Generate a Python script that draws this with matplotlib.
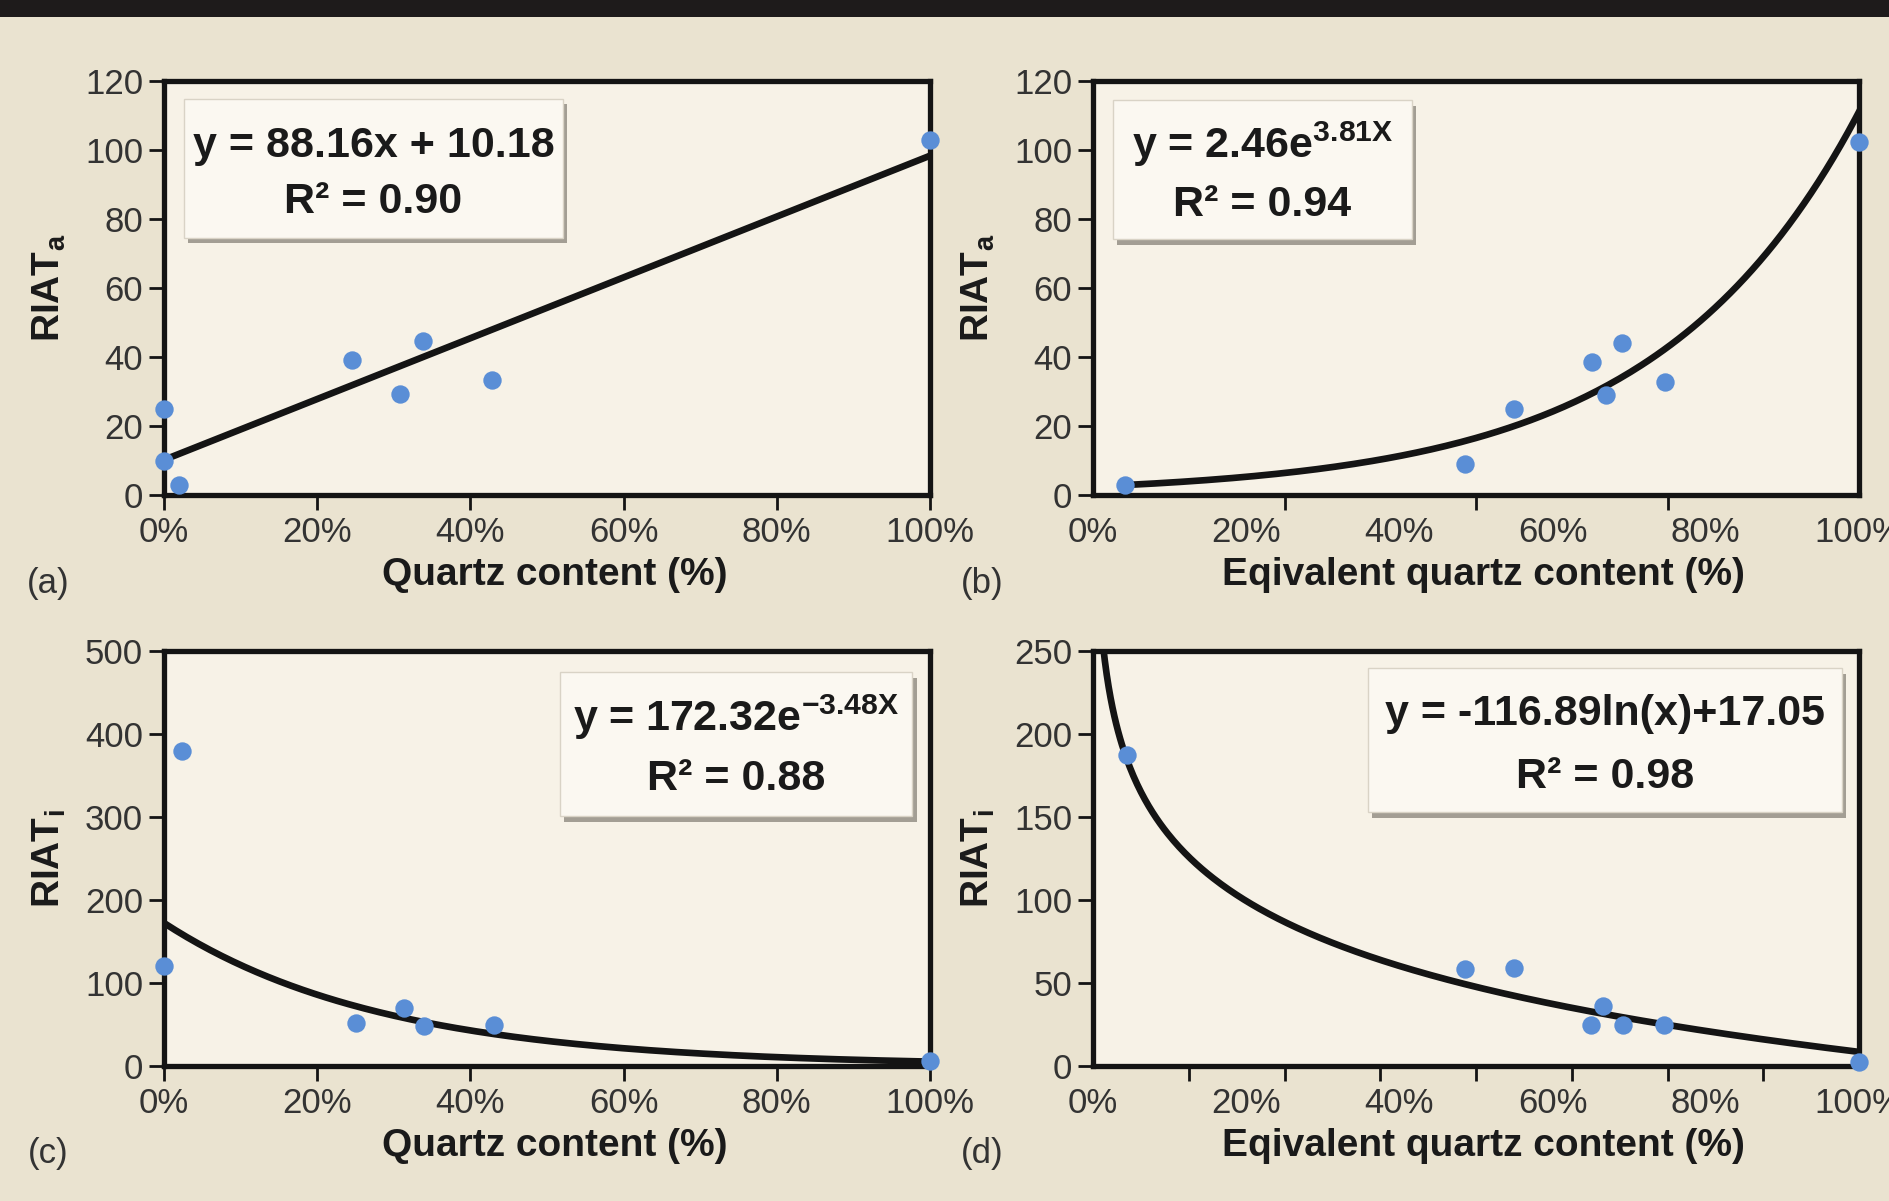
import numpy as np
import matplotlib
matplotlib.use("Agg")
import matplotlib.pyplot as plt
from matplotlib.patches import Rectangle
import matplotlib.patheffects as pe
from matplotlib import font_manager

# ---------------- data ----------------
quartz_a_x = [0.0, 0.0, 0.019, 0.246, 0.308, 0.338, 0.428, 1.0]
quartz_a_y = [24.8, 9.9, 2.8, 39.1, 29.2, 44.7, 33.2, 102.8]

eqquartz_a_x = [0.042, 0.486, 0.549, 0.651, 0.670, 0.690, 0.747, 1.0]
eqquartz_a_y = [2.8, 9.1, 24.8, 38.6, 28.9, 44.2, 32.8, 102.4]

quartz_i_x = [0.0, 0.023, 0.250, 0.313, 0.340, 0.431, 1.0]
quartz_i_y = [120.8, 379.6, 51.3, 69.9, 47.8, 50.0, 6.6]

eqquartz_i_x = [0.044, 0.486, 0.549, 0.650, 0.666, 0.692, 0.746, 1.0]
eqquartz_i_y = [187.6, 58.2, 58.8, 25.0, 36.0, 25.0, 25.0, 2.2]

# trend-line coefficients (as printed / as drawn)
lin_a = (88.16, 10.18)          # y = m x + c
exp_b = (2.46, 3.81)            # y = A e^(k x)
exp_c = (172.32, -3.48)         # y = A e^(k x)
log_d = (-56.5, 8.5)            # drawn curve y = a ln(x) + b

x_tick_labels = ["0%", "20%", "40%", "60%", "80%", "100%"]
y_ticks_a = [0, 20, 40, 60, 80, 100, 120]
y_ticks_c = [0, 100, 200, 300, 400, 500]
y_ticks_d = [0, 50, 100, 150, 200, 250]

eq_texts = {
    "a": ("y = 88.16x + 10.18", "R\u00b2 = 0.90"),
    "b": (r"y = 2.46e$^{\mathregular{3.81X}}$", "R\u00b2 = 0.94"),
    "c": (r"y = 172.32e$^{\mathregular{-3.48X}}$", "R\u00b2 = 0.88"),
    "d": ("y = -116.89ln(x)+17.05", "R\u00b2 = 0.98"),
}
x_labels = {"a": "Quartz content (%)", "b": "Eqivalent quartz content (%)",
            "c": "Quartz content (%)", "d": "Eqivalent quartz content (%)"}
y_labels = {"a": r"RIAT$_\mathregular{a}$", "b": r"RIAT$_\mathregular{a}$",
            "c": r"RIAT$_\mathregular{i}$", "d": r"RIAT$_\mathregular{i}$"}

# ---------------- style ----------------
names = {f.name for f in font_manager.fontManager.ttflist}
BASE = "Liberation Sans" if "Liberation Sans" in names else "DejaVu Sans"
NARROW = "Liberation Sans Narrow" if "Liberation Sans Narrow" in names else BASE
EQ_SIZE = 35 if NARROW != BASE else 31

plt.rcParams["font.family"] = [BASE, "DejaVu Sans"]
plt.rcParams["mathtext.default"] = "regular"

FIG_BG = "#EAE3D0"
AX_BG = "#F7F2E7"
BOX_BG = "#FBF8F1"
DOT = "#5A8ED6"
INK = "#141414"
TXT = "#333333"

W, H = 1889, 1201
fig = plt.figure(figsize=(W / 100, H / 100), dpi=100, facecolor=FIG_BG)

# top black band
fig.add_artist(Rectangle((0, 1 - 17 / H), 1, 17 / H, transform=fig.transFigure,
                         facecolor="#1e1b1b", edgecolor="none", zorder=10))


def px_rect(l, r, t, b):
    return [l / W, (H - b) / H, (r - l) / W, (b - t) / H]


axes = {
    "a": fig.add_axes(px_rect(164, 930, 81, 495)),
    "b": fig.add_axes(px_rect(1093, 1859, 81, 495)),
    "c": fig.add_axes(px_rect(164, 930, 651, 1066)),
    "d": fig.add_axes(px_rect(1093, 1859, 651, 1066)),
}

shadow = [pe.SimplePatchShadow(offset=(2, -3), shadow_rgbFace="#6b6559", alpha=0.6), pe.Normal()]

for key, ax in axes.items():
    ax.set_facecolor(AX_BG)
    for s in ax.spines.values():
        s.set_linewidth(3.8)
        s.set_color(INK)
        s.set_path_effects(shadow)
        s.set_zorder(6)
    ax.set_xlim(0, 1)
    ax.set_xticks(np.linspace(0, 1, 6))
    ax.set_xticklabels(x_tick_labels)
    ax.tick_params(axis="both", which="both", direction="out", length=11, width=2,
                   color=INK, labelsize=25, labelcolor=TXT, pad=4)
    ax.set_xlabel(x_labels[key], fontsize=28, fontweight="bold", color="#1a1a1a")
    ax.set_ylabel(y_labels[key], fontsize=28, fontweight="bold", color="#1a1a1a")
    ax.xaxis.set_label_coords(0.51, -0.15)
    ax.yaxis.set_label_coords(-0.125, 0.5)

# special minor tick marks on b, d
for key, n in (("b", 5), ("d", 9)):
    ax = axes[key]
    ax.set_xticks(np.linspace(0, 1, n), minor=True)
    ax.tick_params(axis="x", which="major", length=0, pad=15)
    ax.tick_params(axis="x", which="minor", length=11, width=2, color=INK)

# limits / y ticks
axes["a"].set_ylim(0, 120); axes["a"].set_yticks(y_ticks_a)
axes["b"].set_ylim(0, 120); axes["b"].set_yticks(y_ticks_a)
axes["c"].set_ylim(0, 500); axes["c"].set_yticks(y_ticks_c)
axes["d"].set_ylim(0, 250); axes["d"].set_yticks(y_ticks_d)

LW = 4.8
# trend lines
xx = np.linspace(0, 1, 200)
axes["a"].plot(xx, lin_a[0] * xx + lin_a[1], color=INK, lw=LW, zorder=4)
xb = np.linspace(min(eqquartz_a_x), max(eqquartz_a_x), 200)
axes["b"].plot(xb, exp_b[0] * np.exp(exp_b[1] * xb), color=INK, lw=LW, zorder=4)
axes["c"].plot(xx, exp_c[0] * np.exp(exp_c[1] * xx), color=INK, lw=LW, zorder=4)
xd = np.linspace(0.008, 1, 400)
axes["d"].plot(xd, log_d[0] * np.log(xd) + log_d[1], color=INK, lw=LW, zorder=4)

# scatter points
for key, (x, y) in {"a": (quartz_a_x, quartz_a_y), "b": (eqquartz_a_x, eqquartz_a_y),
                    "c": (quartz_i_x, quartz_i_y), "d": (eqquartz_i_x, eqquartz_i_y)}.items():
    axes[key].scatter(x, y, s=175, color=DOT, linewidths=0, zorder=7, clip_on=False)

# equation boxes: (x0, x1, y0, y1, baseline1, baseline2)
box_geom = {
    "a": (0.026, 0.521, 0.621, 0.957, 0.816, 0.680),
    "b": (0.026, 0.416, 0.618, 0.954, 0.814, 0.675),
    "c": (0.517, 0.977, 0.602, 0.949, 0.808, 0.665),
    "d": (0.359, 0.978, 0.612, 0.959, 0.822, 0.670),
}
for key, (x0, x1, y0, y1, b1, b2) in box_geom.items():
    ax = axes[key]
    r = Rectangle((x0, y0), x1 - x0, y1 - y0, transform=ax.transAxes,
                  facecolor=BOX_BG, edgecolor="#d9d3c6", lw=1, zorder=8)
    r.set_path_effects([pe.SimplePatchShadow(offset=(3, -4), shadow_rgbFace="#5f5a50", alpha=0.55),
                        pe.Normal()])
    ax.add_patch(r)
    l1, l2 = eq_texts[key]
    cx = (x0 + x1) / 2
    ax.text(cx, b1, l1, transform=ax.transAxes, ha="center", va="baseline",
            fontsize=EQ_SIZE, fontweight="bold", family=[NARROW, "DejaVu Sans"],
            color="#1a1a1a", zorder=9)
    ax.text(cx, b2, l2, transform=ax.transAxes, ha="center", va="baseline",
            fontsize=EQ_SIZE, fontweight="bold", family=[NARROW, "DejaVu Sans"],
            color="#1a1a1a", zorder=9)

# panel letters
for key, (px, py) in {"a": (48, 583), "b": (982, 583), "c": (48, 1154), "d": (982, 1154)}.items():
    fig.text(px / W, 1 - py / H, f"({key})", ha="center", va="center", fontsize=25, color=TXT)

fig.savefig("out.png", dpi=100, facecolor=FIG_BG)
